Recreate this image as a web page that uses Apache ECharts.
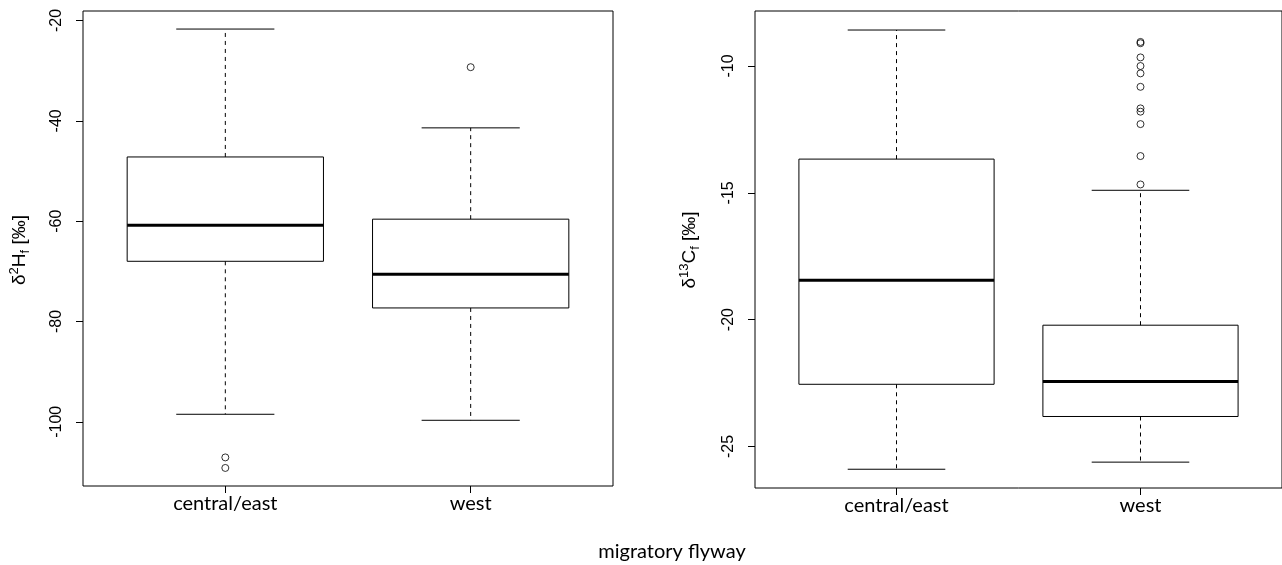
<!DOCTYPE html>
<html>
<head>
<meta charset="utf-8">
<script src="https://cdn.jsdelivr.net/npm/echarts@6/dist/echarts.min.js"></script>
<style>
html,body{margin:0;padding:0;background:#fff;}
#chart{width:1282px;height:565px;}
</style>
</head>
<body>
<div id="chart"></div>
<script>
// ---- data ----
const categories = ['central/east', 'west'];
const categoryPositions = [1, 2];
// boxplot stats: [lower whisker, Q1, median, Q3, upper whisker]
const hCentralEast = [-98.5, -68.0, -60.8, -47.2, -21.7];
const hWest = [-99.7, -77.3, -70.6, -59.6, -41.4];
const hOutliersCentralEast = [-107.1, -109.2];
const hOutliersWest = [-29.3];
const cCentralEast = [-25.9, -22.55, -18.45, -13.67, -8.58];
const cWest = [-25.62, -23.82, -22.44, -20.22, -14.9];
const cOutliersCentralEast = [];
const cOutliersWest = [-9.05, -9.1, -9.66, -10.0, -10.29, -10.82, -11.67, -11.8, -12.29, -13.55, -14.67];
const hTicks = [-100, -80, -60, -40, -20];
const cTicks = [-25, -20, -15, -10];
const xLabel = 'migratory flyway';

// ---- build ----
const AXIS_FONT = 'Liberation Sans';
const CAT_FONT = 'Lato';

function boxData(a, b) {
  return [[categoryPositions[0]].concat(a), [categoryPositions[1]].concat(b)];
}
function outlierData(a, b) {
  return a.map(v => [categoryPositions[0], v]).concat(b.map(v => [categoryPositions[1], v]));
}

function renderBox(params, api) {
  const x = api.value(0);
  const lo = api.value(1), q1 = api.value(2), med = api.value(3), q3 = api.value(4), hi = api.value(5);
  const pLo = api.coord([x, lo]);
  const pQ1 = api.coord([x, q1]);
  const pMed = api.coord([x, med]);
  const pQ3 = api.coord([x, q3]);
  const pHi = api.coord([x, hi]);
  const half = api.size([0.4, 0])[0];
  const st = half / 2;
  const cx = pMed[0];
  const black = '#000';
  return {
    type: 'group',
    children: [
      { type: 'line', shape: { x1: cx, y1: pQ3[1], x2: cx, y2: pHi[1] }, style: { stroke: black, lineWidth: 1, lineDash: [4, 4] } },
      { type: 'line', shape: { x1: cx, y1: pQ1[1], x2: cx, y2: pLo[1] }, style: { stroke: black, lineWidth: 1, lineDash: [4, 4] } },
      { type: 'line', shape: { x1: cx - st, y1: pHi[1], x2: cx + st, y2: pHi[1] }, style: { stroke: black, lineWidth: 1 } },
      { type: 'line', shape: { x1: cx - st, y1: pLo[1], x2: cx + st, y2: pLo[1] }, style: { stroke: black, lineWidth: 1 } },
      { type: 'rect', shape: { x: cx - half, y: pQ3[1], width: 2 * half, height: pQ1[1] - pQ3[1] }, style: { fill: 'none', stroke: black, lineWidth: 1 } },
      { type: 'line', shape: { x1: cx - half, y1: pMed[1], x2: cx + half, y2: pMed[1] }, style: { stroke: black, lineWidth: 3 } }
    ]
  };
}

function xAxisCfg(gi) {
  return {
    type: 'value', gridIndex: gi, min: 0.42, max: 2.58,
    axisLine: { show: false },
    splitLine: { show: false },
    axisTick: { show: true, inside: false, length: 7, customValues: categoryPositions, lineStyle: { color: '#000', width: 1 } },
    axisLabel: {
      show: true, customValues: categoryPositions, margin: 8,
      formatter: v => categories[Math.round(v) - 1] || '',
      fontFamily: CAT_FONT, fontSize: 20, color: '#000'
    }
  };
}
function yAxisCfg(gi, min, max, ticks) {
  return {
    type: 'value', gridIndex: gi, min: min, max: max,
    axisLine: { show: false },
    splitLine: { show: false },
    axisTick: { show: true, inside: false, length: 7, customValues: ticks, lineStyle: { color: '#000', width: 1 } },
    axisLabel: {
      show: true, customValues: ticks, rotate: 90, margin: 18,
      fontFamily: AXIS_FONT, fontSize: 16, color: '#000'
    }
  };
}

const richLabel = {
  a: { fontFamily: AXIS_FONT, fontSize: 19, color: '#000', lineHeight: 28, verticalAlign: 'middle' },
  sup: { fontFamily: AXIS_FONT, fontSize: 13, color: '#000', lineHeight: 28, verticalAlign: 'top', padding: [2, 0, 0, 0] },
  sub: { fontFamily: AXIS_FONT, fontSize: 13, color: '#000', lineHeight: 28, verticalAlign: 'bottom', padding: [0, 0, 2, 0] }
};

const outlierStyle = { color: 'rgba(0,0,0,0)', borderColor: '#000', borderWidth: 1 };

const chart = echarts.init(document.getElementById('chart'), null, { renderer: 'canvas' });
chart.setOption({
  animation: false,
  backgroundColor: '#fff',
  grid: [
    { left: 83, top: 11, width: 530, height: 475, show: true, borderColor: '#000', borderWidth: 1, backgroundColor: 'transparent' },
    { left: 755, top: 11, width: 529, height: 477, show: true, borderColor: '#000', borderWidth: 1, backgroundColor: 'transparent' }
  ],
  xAxis: [xAxisCfg(0), xAxisCfg(1)],
  yAxis: [yAxisCfg(0, -112.8, -18.1, hTicks), yAxisCfg(1, -26.64, -7.83, cTicks)],
  graphic: [
    { type: 'text', x: 20, y: 250, rotation: Math.PI / 2,
      style: { text: '{a|δ}{sup|2}{a|H}{sub|f}{a| [‰]}', rich: richLabel, align: 'center', verticalAlign: 'middle' } },
    { type: 'text', x: 690, y: 250, rotation: Math.PI / 2,
      style: { text: '{a|δ}{sup|13}{a|C}{sub|f}{a| [‰]}', rich: richLabel, align: 'center', verticalAlign: 'middle' } },
    { type: 'text', x: 672, y: 552,
      style: { text: xLabel, fontFamily: CAT_FONT, fontSize: 20, fill: '#000', align: 'center', verticalAlign: 'middle' } }
  ],
  series: [
    { type: 'custom', xAxisIndex: 0, yAxisIndex: 0, renderItem: renderBox, data: boxData(hCentralEast, hWest), encode: { x: 0, y: [1, 2, 3, 4, 5] }, clip: false },
    { type: 'scatter', xAxisIndex: 0, yAxisIndex: 0, data: outlierData(hOutliersCentralEast, hOutliersWest), symbol: 'circle', symbolSize: 7, itemStyle: outlierStyle },
    { type: 'custom', xAxisIndex: 1, yAxisIndex: 1, renderItem: renderBox, data: boxData(cCentralEast, cWest), encode: { x: 0, y: [1, 2, 3, 4, 5] }, clip: false },
    { type: 'scatter', xAxisIndex: 1, yAxisIndex: 1, data: outlierData(cOutliersCentralEast, cOutliersWest), symbol: 'circle', symbolSize: 7, itemStyle: outlierStyle }
  ]
});
</script>
</body>
</html>
